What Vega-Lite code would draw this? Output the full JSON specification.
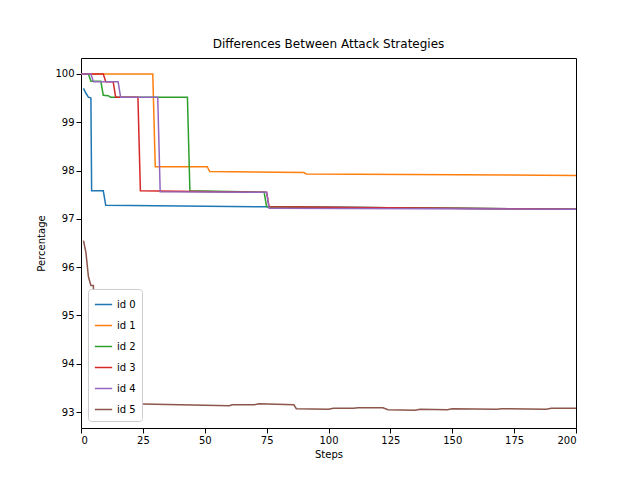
{
"$schema":"https://vega.github.io/schema/vega-lite/v6.json",
"width":495,"height":370,
"padding":{"left":81,"top":58,"right":64,"bottom":52},
"autosize":{"type":"none"},
"config":{"font":"DejaVu Sans","view":{"stroke":"black"},"axis":{"grid":false,"domain":false,"tickColor":"black","labelColor":"black","titleColor":"black","labelFontSize":10,"titleFontSize":10,"titleFontWeight":"normal"}},
"title":{"text":"Differences Between Attack Strategies","fontSize":12,"fontWeight":"normal","offset":7},
"data":{"values":[
{"id":"id 0","x":1,"y":99.7},{"id":"id 0","x":2,"y":99.6},{"id":"id 0","x":3,"y":99.52},{"id":"id 0","x":4,"y":99.5},{"id":"id 0","x":4.3,"y":97.58},{"id":"id 0","x":9,"y":97.58},{"id":"id 0","x":10,"y":97.28},{"id":"id 0","x":75,"y":97.25},{"id":"id 0","x":200,"y":97.2},
{"id":"id 1","x":0,"y":100},{"id":"id 1","x":29,"y":100},{"id":"id 1","x":30,"y":98.08},{"id":"id 1","x":51,"y":98.08},{"id":"id 1","x":52,"y":97.98},{"id":"id 1","x":90,"y":97.96},{"id":"id 1","x":91,"y":97.93},{"id":"id 1","x":200,"y":97.9},
{"id":"id 2","x":0,"y":100},{"id":"id 2","x":3,"y":100},{"id":"id 2","x":4,"y":99.85},{"id":"id 2","x":8,"y":99.85},{"id":"id 2","x":9,"y":99.56},{"id":"id 2","x":11,"y":99.55},{"id":"id 2","x":12,"y":99.52},{"id":"id 2","x":43,"y":99.52},{"id":"id 2","x":44,"y":97.58},{"id":"id 2","x":74,"y":97.55},{"id":"id 2","x":75,"y":97.25},{"id":"id 2","x":200,"y":97.2},
{"id":"id 3","x":0,"y":100},{"id":"id 3","x":9,"y":100},{"id":"id 3","x":10,"y":99.84},{"id":"id 3","x":13,"y":99.84},{"id":"id 3","x":14,"y":99.52},{"id":"id 3","x":23,"y":99.52},{"id":"id 3","x":24,"y":97.58},{"id":"id 3","x":75,"y":97.55},{"id":"id 3","x":76,"y":97.25},{"id":"id 3","x":200,"y":97.2},
{"id":"id 4","x":0,"y":100},{"id":"id 4","x":4,"y":100},{"id":"id 4","x":5,"y":99.84},{"id":"id 4","x":15,"y":99.84},{"id":"id 4","x":16,"y":99.52},{"id":"id 4","x":31,"y":99.52},{"id":"id 4","x":32,"y":97.56},{"id":"id 4","x":75,"y":97.55},{"id":"id 4","x":76,"y":97.22},{"id":"id 4","x":200,"y":97.2},
{"id":"id 5","x":1,"y":96.55},{"id":"id 5","x":2,"y":96.3},{"id":"id 5","x":3,"y":95.8},{"id":"id 5","x":4,"y":95.62},{"id":"id 5","x":5,"y":95.62},{"id":"id 5","x":6,"y":93.55},{"id":"id 5","x":12,"y":93.55},{"id":"id 5","x":15,"y":93.5},{"id":"id 5","x":18,"y":93.48},{"id":"id 5","x":20,"y":93.17},{"id":"id 5","x":60,"y":93.13},{"id":"id 5","x":61,"y":93.15},{"id":"id 5","x":70,"y":93.15},{"id":"id 5","x":72,"y":93.17},{"id":"id 5","x":86,"y":93.15},{"id":"id 5","x":87,"y":93.07},{"id":"id 5","x":100,"y":93.06},{"id":"id 5","x":102,"y":93.08},{"id":"id 5","x":110,"y":93.08},{"id":"id 5","x":112,"y":93.09},{"id":"id 5","x":122,"y":93.09},{"id":"id 5","x":124,"y":93.05},{"id":"id 5","x":135,"y":93.04},{"id":"id 5","x":137,"y":93.06},{"id":"id 5","x":148,"y":93.05},{"id":"id 5","x":150,"y":93.07},{"id":"id 5","x":168,"y":93.06},{"id":"id 5","x":170,"y":93.07},{"id":"id 5","x":188,"y":93.06},{"id":"id 5","x":190,"y":93.08},{"id":"id 5","x":200,"y":93.08}
]},
"mark":{"type":"line","strokeWidth":1.5},
"encoding":{
"x":{"field":"x","type":"quantitative","title":"Steps","scale":{"domain":[0,200],"nice":false,"zero":false},"axis":{"values":[0,25,50,75,100,125,150,175,200]}},
"y":{"field":"y","type":"quantitative","title":"Percentage","scale":{"domain":[92.67,100.33],"nice":false,"zero":false},"axis":{"values":[93,94,95,96,97,98,99,100],"titlePadding":8}},
"color":{"field":"id","type":"nominal","scale":{"range":["#1f77b4","#ff7f0e","#2ca02c","#d62728","#9467bd","#8c564b"]},
"legend":{"title":null,"orient":"bottom-left","offset":7,"labelFontSize":10,"symbolType":"stroke","symbolSize":300,"symbolStrokeWidth":1.5,"strokeColor":"#cccccc","fillColor":"white","padding":6,"cornerRadius":3,"rowPadding":6}}
}
}
